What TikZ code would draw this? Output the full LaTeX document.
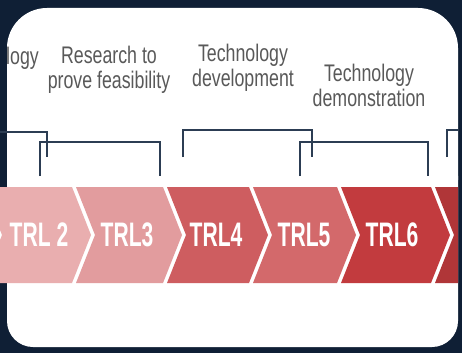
\documentclass[tikz,border=0pt]{standalone}
\usepackage{fontspec}
\setmainfont{Liberation Sans}
\newfontfamily\narrowfont[FakeStretch=0.74]{Liberation Sans}
\newfontfamily\trlfont[FakeStretch=0.62]{Liberation Sans}
\usetikzlibrary{calc}

\definecolor{navybg}{HTML}{0F1F35}
\definecolor{brackblue}{HTML}{2C3D53}
\definecolor{labgray}{HTML}{595959}
\definecolor{trlA}{HTML}{E9AEAF}
\definecolor{trlB}{HTML}{E29C9E}
\definecolor{trlC}{HTML}{CE5D60}
\definecolor{trlD}{HTML}{D3696B}
\definecolor{trlE}{HTML}{C23B3E}
\definecolor{trlF}{HTML}{B03638}

\begin{document}
\begin{tikzpicture}[
  x=1pt, y=-1pt,
  tag/.style ={font=\narrowfont\fontsize{24}{25}\selectfont, text=labgray, align=center, inner sep=0pt},
  trl/.style ={font=\trlfont\bfseries\fontsize{34}{34}\selectfont, text=white, inner sep=0pt},
  brk/.style ={draw=brackblue, line width=2.8pt, line join=miter}
]
\useasboundingbox (0,0) rectangle (462,353);

% ---- backdrop and card ----
\fill[navybg] (0,0) rectangle (462,353);
\fill[white, rounded corners=40pt] (7,8) rectangle (458,220);
\fill[white, rounded corners=26pt] (7,150) rectangle (458,347);

% ---- chevron band ----
\begin{scope}
  \clip (0,0) rectangle (458,353);
  \fill[white] (0,187) rectangle (458,283);
  \foreach \a/\b/\col in {-17/72/trlA, 76/163/trlB, 167/249/trlC, 253/337/trlD, 341/431/trlE, 435/520/trlF}
    \fill[\col] (\a,187) -- (\b,187) -- ++(19,48) -- (\b,283) -- (\a,283) -- ++(19,-48) -- cycle;
\end{scope}

\node[trl] (trl2) at (39,235)  {TRL 2};
\node[trl] (trl3) at (127,235) {TRL3};
\node[trl] (trl4) at (216,235) {TRL4};
\node[trl] (trl5) at (304,235) {TRL5};
\node[trl] (trl6) at (392,235) {TRL6};

% ---- phase labels ----
\node[tag, anchor=east] (phase1) at (39,58) {logy};
\node[tag] (phase2) at (109,70) {Research to\\prove feasibility};
\node[tag] (phase3) at (243,68) {Technology\\development};
\node[tag] (phase4) at (369,85) {Technology\\demonstration};

% ---- brackets ----
\draw[brk] (0,132) -| (47,157);
\draw[brk] (40,176) |- (160,142) -- (160,176);
\draw[brk] (183,157) |- (312,130) -- (312,157);
\draw[brk] (300,176) |- (428,142) -- (428,176);
\draw[brk] (447,157) |- (458,130);

\end{tikzpicture}
\end{document}
